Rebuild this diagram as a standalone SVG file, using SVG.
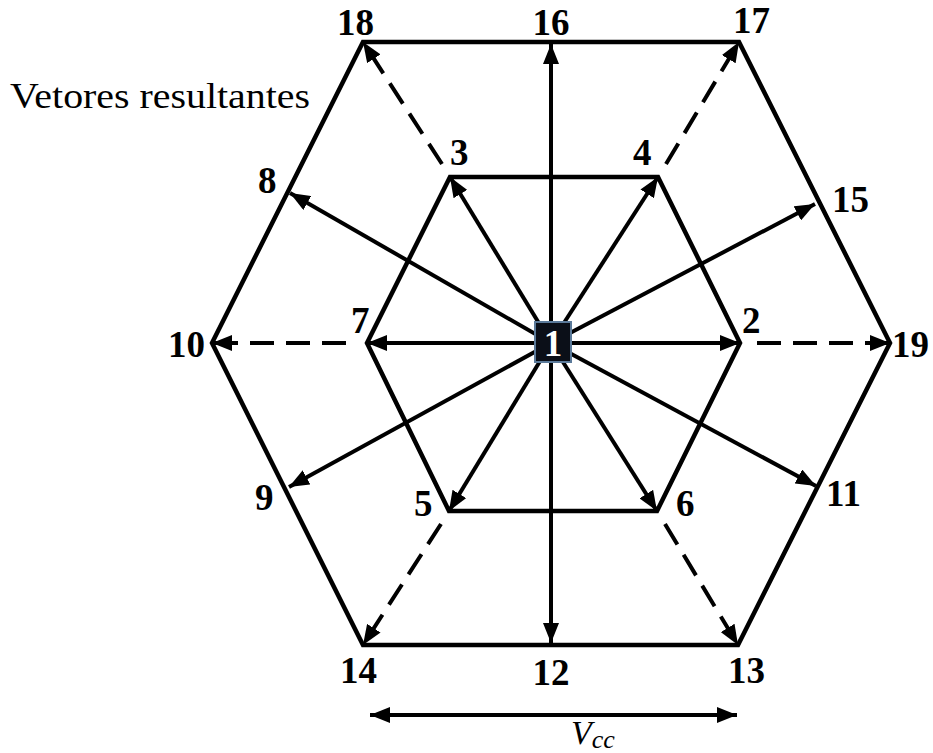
<svg xmlns="http://www.w3.org/2000/svg" width="933" height="753" viewBox="0 0 933 753">
<style>
.hex{fill:none;stroke:#000;stroke-width:4.5;stroke-linejoin:miter}
.vec{stroke:#000;stroke-width:4;fill:none;marker-end:url(#ah)}
.dash{stroke:#000;stroke-width:4;fill:none;stroke-dasharray:24 12;marker-end:url(#ah)}
.lbl{font-family:"Liberation Serif","Times New Roman",serif;font-weight:bold;font-size:37px;fill:#000}
.txt{font-family:"Liberation Serif","Times New Roman",serif;font-size:36px;fill:#000}
</style>
<defs>
<marker id="ah" markerUnits="userSpaceOnUse" markerWidth="20" markerHeight="16" viewBox="0 0 20 16" refX="20" refY="8" orient="auto">
<path d="M0,0 L20,8 L0,16 Z" fill="#000"/>
</marker>
<marker id="ahs" markerUnits="userSpaceOnUse" markerWidth="20" markerHeight="16" viewBox="0 0 20 16" refX="20" refY="8" orient="auto-start-reverse">
<path d="M0,0 L20,8 L0,16 Z" fill="#000"/>
</marker>
</defs>
<rect width="933" height="753" fill="#fff"/>
<g id="hexagons">
<polygon class="hex" points="363,42 739,42 890,343 738,645 363,645 212,343"/>
<polygon class="hex" points="450,177 658,177 740,343 657,511 449,511 367,343"/>
</g>
<g id="connectors">
<line class="vec" x1="551" y1="343" x2="551" y2="44"/>
<line class="vec" x1="551" y1="343" x2="551" y2="643"/>
<line class="vec" x1="551" y1="343" x2="740" y2="343"/>
<line class="vec" x1="551" y1="343" x2="367" y2="343"/>
<line class="vec" x1="551" y1="343" x2="450" y2="177"/>
<line class="vec" x1="551" y1="343" x2="658" y2="177"/>
<line class="vec" x1="551" y1="343" x2="449" y2="511"/>
<line class="vec" x1="551" y1="343" x2="657" y2="511"/>
<line class="vec" x1="551" y1="343" x2="290" y2="193"/>
<line class="vec" x1="551" y1="343" x2="815" y2="204"/>
<line class="vec" x1="551" y1="343" x2="289" y2="487"/>
<line class="vec" x1="551" y1="343" x2="816" y2="486"/>
<line class="dash" x1="442" y1="164" x2="363" y2="42"/>
<line class="dash" x1="666" y1="164" x2="739" y2="42"/>
<line class="dash" x1="757" y1="343" x2="890" y2="343"/>
<line class="dash" x1="346" y1="343" x2="212" y2="343"/>
<line class="dash" x1="441" y1="524" x2="363" y2="645"/>
<line class="dash" x1="665" y1="524" x2="738" y2="645"/>
<line stroke="#000" stroke-width="4" marker-start="url(#ahs)" marker-end="url(#ahs)" x1="370" y1="715" x2="737" y2="715"/>
</g>
<g id="center">
<rect x="535" y="322" width="36" height="40" fill="#0b0f18" stroke="#5b7a9a" stroke-width="2"/>
<text class="lbl" x="553" y="356" text-anchor="middle" style="fill:#fff">1</text>
</g>
<g id="labels">
<text class="lbl" x="337" y="35">18</text>
<text class="lbl" x="551" y="35" text-anchor="middle">16</text>
<text class="lbl" x="733" y="33">17</text>
<text class="lbl" x="258" y="193">8</text>
<text class="lbl" x="450" y="165">3</text>
<text class="lbl" x="633" y="165">4</text>
<text class="lbl" x="832" y="212">15</text>
<text class="lbl" x="351" y="333">7</text>
<text class="lbl" x="742" y="333">2</text>
<text class="lbl" x="168" y="357">10</text>
<text class="lbl" x="892" y="357">19</text>
<text class="lbl" x="255" y="510">9</text>
<text class="lbl" x="414" y="516">5</text>
<text class="lbl" x="676" y="516">6</text>
<text class="lbl" x="826" y="506">11</text>
<text class="lbl" x="340" y="683">14</text>
<text class="lbl" x="551" y="685" text-anchor="middle">12</text>
<text class="lbl" x="728" y="683">13</text>
<text class="txt" x="10" y="108" textLength="300" lengthAdjust="spacingAndGlyphs">Vetores resultantes</text>
<text font-family="'Liberation Serif','Times New Roman',serif" font-style="italic" font-size="34" x="571" y="744">V<tspan font-size="26" dy="4">cc</tspan></text>
</g>
</svg>
